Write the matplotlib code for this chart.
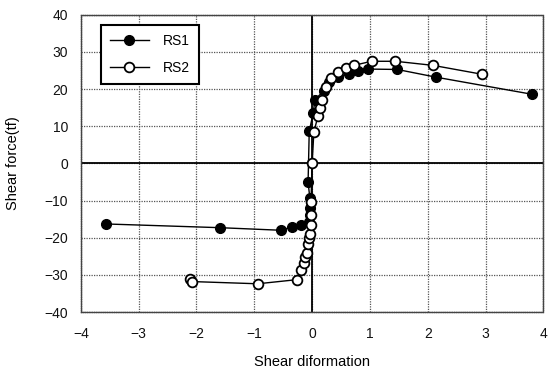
import matplotlib
matplotlib.use("Agg")
import matplotlib.pyplot as plt

plt.rcParams['font.family'] = ['Liberation Sans', 'DejaVu Sans']

# Shear deformation / shear force curves
rs1_x = [-3.56, -1.59, -0.53, -0.34, -0.20, -0.05, -0.04, -0.04, -0.04, -0.07,
         -0.05, 0.02, 0.05, 0.20, 0.30, 0.45, 0.63, 0.80, 0.97, 1.47, 2.15, 3.81]
rs1_y = [-16.3, -17.3, -18.0, -17.0, -16.5, -15.8, -14.0, -12.0, -9.2, -5.1,
         8.6, 13.7, 17.2, 19.5, 21.8, 23.2, 24.2, 24.8, 25.4, 25.3, 23.2, 18.6]

rs2_x = [-2.12, -2.08, -0.94, -0.27, -0.19, -0.14, -0.12, -0.09, -0.07, -0.05,
         -0.04, -0.02, -0.02, -0.02, 0.00, 0.03, 0.10, 0.13, 0.17, 0.24, 0.32,
         0.44, 0.58, 0.72, 1.03, 1.44, 2.09, 2.94]
rs2_y = [-31.0, -31.8, -32.4, -31.3, -28.8, -26.7, -25.1, -24.0, -21.8, -20.2,
         -18.9, -16.7, -14.0, -10.5, 0.0, 8.4, 12.7, 14.8, 17.0, 20.5, 22.9,
         24.5, 25.6, 26.4, 27.5, 27.5, 26.4, 24.0]

x_ticks = [-4, -3, -2, -1, 0, 1, 2, 3, 4]
y_ticks = [-40, -30, -20, -10, 0, 10, 20, 30, 40]

fig = plt.figure(figsize=(5.5, 3.71), dpi=100)
ax = fig.add_axes([0.147, 0.159, 0.841, 0.801])

ax.set_xlim(-4, 4)
ax.set_ylim(-40, 40)
ax.set_xticks(x_ticks)
ax.set_yticks(y_ticks)
ax.set_xticklabels(['\u2212' + str(-t) if t < 0 else str(t) for t in x_ticks])
ax.set_yticklabels(['\u2212' + str(-t) if t < 0 else str(t) for t in y_ticks])
ax.tick_params(length=0, labelsize=10, colors='#111111')
ax.tick_params(axis='x', pad=11)
ax.tick_params(axis='y', pad=9)

ax.grid(True, color='#555555', linestyle=(0, (1, 1)), linewidth=0.9)
for s in ax.spines.values():
    s.set_color('#444444')
    s.set_linewidth(1.0)
    s.set_linestyle((0, (1, 0.6)))

ax.axhline(0, color='black', linewidth=1.3, zorder=2)
ax.axvline(0, color='black', linewidth=1.3, zorder=2)

ax.plot(rs1_x, rs1_y, color='black', linewidth=1.0, marker='o', markersize=7,
        markerfacecolor='black', markeredgecolor='black', label='RS1', zorder=3)
ax.plot(rs2_x, rs2_y, color='black', linewidth=1.0, marker='o', markersize=7,
        markerfacecolor='white', markeredgecolor='black', markeredgewidth=1.3,
        label='RS2', zorder=4)

leg = ax.legend(loc='upper left', bbox_to_anchor=(0.043, 0.965), fontsize=10,
                frameon=True, fancybox=False, borderpad=0.65, labelspacing=0.9,
                handlelength=2.8, handletextpad=1.0, borderaxespad=0)
leg.get_frame().set_edgecolor('black')
leg.get_frame().set_linewidth(1.5)
leg.get_frame().set_alpha(1)

ax.set_xlabel('Shear diformation', fontsize=10.5, labelpad=10)
ax.set_ylabel('Shear force(tf)', fontsize=10.5, labelpad=18)

fig.savefig('out.png', dpi=100)
